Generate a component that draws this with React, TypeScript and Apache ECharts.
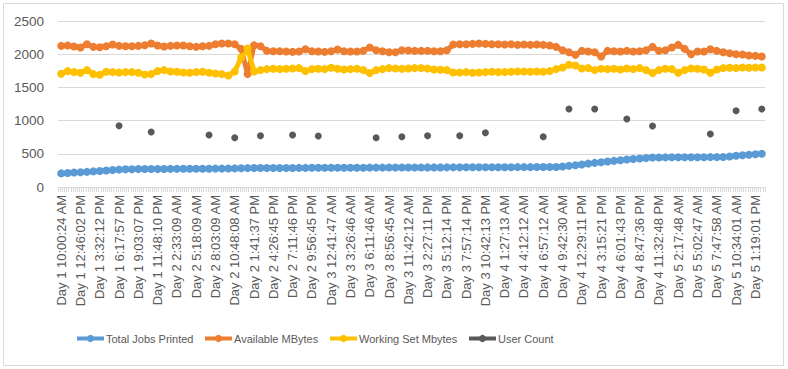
import React, { useEffect, useRef } from "react";
import * as echarts from "echarts";

const tickLabels = [
  "Day 1 10:00:24 AM", "Day 1 12:46:02 PM", "Day 1 3:32:12 PM", "Day 1 6:17:57 PM", "Day 1 9:03:07 PM", "Day 1 11:48:10 PM",
  "Day 2 2:33:09 AM", "Day 2 5:18:09 AM", "Day 2 8:03:09 AM", "Day 2 10:48:08 AM", "Day 2 1:41:37 PM", "Day 2 4:26:45 PM",
  "Day 2 7:11:46 PM", "Day 2 9:56:45 PM", "Day 3 12:41:47 AM", "Day 3 3:26:46 AM", "Day 3 6:11:46 AM", "Day 3 8:56:45 AM",
  "Day 3 11:42:12 AM", "Day 3 2:27:11 PM", "Day 3 5:12:14 PM", "Day 3 7:57:14 PM", "Day 3 10:42:13 PM", "Day 4 1:27:13 AM",
  "Day 4 4:12:12 AM", "Day 4 6:57:12 AM", "Day 4 9:42:30 AM", "Day 4 12:29:11 PM", "Day 4 3:15:21 PM", "Day 4 6:01:43 PM",
  "Day 4 8:47:36 PM", "Day 4 11:32:48 PM", "Day 5 2:17:48 AM", "Day 5 5:02:47 AM", "Day 5 7:47:58 AM", "Day 5 10:34:01 AM",
  "Day 5 1:19:01 PM",
];
const samplesPerTick = 3;
const sampleCount = 110;

const seriesNames = ["Total Jobs Printed", "Available MBytes", "Working Set Mbytes", "User Count"];

const totalJobs = [
  205, 212, 218, 222, 228, 235, 242, 248, 255, 262, 266,
  268, 270, 270, 271, 272, 272, 273, 273, 274, 275, 275, 276, 276, 277, 277, 278, 280,
  283, 284, 285, 285, 286, 286, 287, 287, 287, 288, 288, 289, 289, 289, 290, 290, 290, 291, 291, 291,
  292, 292, 292, 293, 293, 293, 294, 294, 294, 295, 295, 295, 296, 296, 296, 297, 297, 297, 297, 298,
  298, 298, 298, 299, 299, 299, 300, 300, 301, 302,
  308, 318, 328, 340, 352, 363, 373, 383, 393, 403, 413, 422, 430, 437, 443,
  445, 446, 447, 447, 448, 448, 449, 449, 450, 450, 452,
  460, 470, 478, 486, 493, 500,
];
const availableMB = [
  2125, 2130, 2115, 2100, 2150, 2110, 2105, 2120, 2145, 2125,
  2120, 2120, 2125, 2135, 2160, 2130, 2115, 2125, 2130, 2130,
  2120, 2110, 2120, 2125, 2150, 2160, 2160, 2150, 2080, 1700,
  2135, 2120, 2050, 2045, 2045, 2040, 2035, 2040, 2075, 2045,
  2040, 2035, 2045, 2070, 2045, 2040, 2040, 2050, 2100, 2060,
  2045, 2030, 2030, 2060, 2055, 2050, 2050, 2050, 2045, 2045,
  2060, 2145, 2150, 2150, 2155, 2160, 2155, 2150, 2150, 2145,
  2150, 2140, 2145, 2140, 2145, 2140, 2130, 2110, 2060, 2030,
  1990, 2050, 2040, 2030, 1965, 2050, 2045, 2040, 2050, 2040,
  2045, 2060, 2110, 2050, 2060, 2100, 2140, 2080, 2000, 2040,
  2040, 2075, 2050, 2030, 2015, 2000, 1995, 1980, 1975, 1965,
];
const workingSetMB = [
  1705, 1745, 1730, 1720, 1760, 1700, 1690, 1735, 1730, 1725,
  1730, 1730, 1720, 1695, 1700, 1745, 1760, 1740, 1735, 1725,
  1720, 1730, 1735, 1720, 1710, 1700, 1680, 1740, 1950, 2085,
  1740, 1760, 1775, 1780, 1775, 1780, 1785, 1790, 1745, 1775,
  1780, 1775, 1795, 1780, 1770, 1775, 1780, 1760, 1715, 1760,
  1775, 1790, 1785, 1780, 1785, 1790, 1790, 1785, 1770, 1765,
  1760, 1725, 1725, 1730, 1720, 1725, 1730, 1735, 1730, 1730,
  1735, 1740, 1740, 1735, 1740, 1735, 1745, 1775, 1800, 1840,
  1830, 1785, 1790, 1760, 1780, 1775, 1780, 1770, 1785, 1775,
  1790, 1760, 1715, 1760, 1780, 1775, 1720, 1760, 1785, 1780,
  1770, 1720, 1770, 1790, 1795, 1790, 1800, 1795, 1800, 1800,
];
const userCountAt = [9, 14, 23, 27, 31, 36, 40, 49, 53, 57, 62, 66, 75, 79, 83, 88, 92, 101, 105, 109];
const userCount = [923, 828, 783, 743, 773, 783, 768, 743, 758, 773, 773, 818, 758, 1175, 1175, 1024, 919, 798, 1149, 1175];

const yTicks = { min: 0, max: 2500, interval: 500 };

export default function App() {
  const ref = useRef<HTMLDivElement>(null);

  useEffect(() => {
    if (!ref.current) return;
    const chart = echarts.init(ref.current, undefined, { renderer: "svg" });

    const categories: string[] = [];
    tickLabels.forEach((lab) => {
      for (let k = 0; k < samplesPerTick; k++) categories.push(k === 0 ? lab : `${lab} #${k}`);
    });
    categories.length = sampleCount;

    const userSeries: (number | null)[] = new Array(sampleCount).fill(null);
    userCountAt.forEach((idx, j) => { userSeries[idx] = userCount[j]; });

    const minorCats = Array.from({ length: sampleCount * 3 }, (_, i) => `m${i}`);

    const font = "'Liberation Sans', Arial, sans-serif";
    const textColor = "#595959";

    const lineSeries = (name: string, data: (number | null)[], color: string, width: number, size: number) => ({
      name,
      type: "line",
      data,
      xAxisIndex: 0,
      symbol: "circle",
      symbolSize: size,
      showSymbol: true,
      showAllSymbol: true,
      connectNulls: false,
      lineStyle: { color, width },
      itemStyle: { color, borderWidth: 0 },
      emphasis: { disabled: true },
    });

    const legendLefts = [75, 203, 328, 467];
    const legends = seriesNames.map((name, i) => ({
      left: legendLefts[i],
      top: 333,
      padding: 0,
      itemWidth: 27,
      itemHeight: 9,
      textStyle: { color: textColor, fontSize: 11, fontFamily: font, padding: [0, 0, 0, -3] },
      lineStyle: { width: 4 },
      data: [name],
    }));

    chart.setOption({
      animation: false,
      backgroundColor: "#ffffff",
      textStyle: { fontFamily: font },
      grid: { left: 58, right: 23, top: 21, bottom: 182, containLabel: false },
      graphic: [
        {
          type: "rect",
          shape: { x: 3.5, y: 3.5, width: 780, height: 362 },
          style: { fill: "none", stroke: "#d9d9d9", lineWidth: 1 },
          silent: true,
        },
      ],
      legend: legends,
      xAxis: [
        {
          type: "category",
          data: categories,
          boundaryGap: true,
          position: "bottom",
          axisLine: { show: true, lineStyle: { color: "#d9d9d9", width: 1 } },
          axisTick: { show: false },
          axisLabel: {
            interval: samplesPerTick - 1,
            rotate: 90,
            margin: 8,
            color: textColor,
            fontSize: 13,
            fontFamily: font,
          },
          splitLine: { show: false },
        },
        {
          type: "category",
          data: minorCats,
          boundaryGap: true,
          position: "bottom",
          axisLine: { show: false },
          axisTick: { show: true, interval: 0, length: 5, lineStyle: { color: "#d9d9d9", width: 1 } },
          axisLabel: { show: false },
          splitLine: { show: false },
        },
      ],
      yAxis: {
        type: "value",
        min: yTicks.min,
        max: yTicks.max,
        interval: yTicks.interval,
        axisLine: { show: false },
        axisTick: { show: false },
        axisLabel: {
          color: textColor,
          fontSize: 13.5,
          margin: 14,
          fontFamily: font,
          formatter: (v: number) => String(v),
        },
        splitLine: { show: true, lineStyle: { color: "#d9d9d9", width: 1 } },
      },
      series: [
        lineSeries(seriesNames[0], totalJobs, "#5B9BD5", 5, 8),
        lineSeries(seriesNames[1], availableMB, "#ED7D31", 5, 8),
        lineSeries(seriesNames[2], workingSetMB, "#FFC000", 5, 8),
        lineSeries(seriesNames[3], userSeries, "#595959", 3, 7),
      ],
    });

    return () => chart.dispose();
  }, []);

  return (
    <div
      ref={ref}
      style={{ position: "absolute", left: 0, top: 0, width: 788, height: 369 }}
    />
  );
}
